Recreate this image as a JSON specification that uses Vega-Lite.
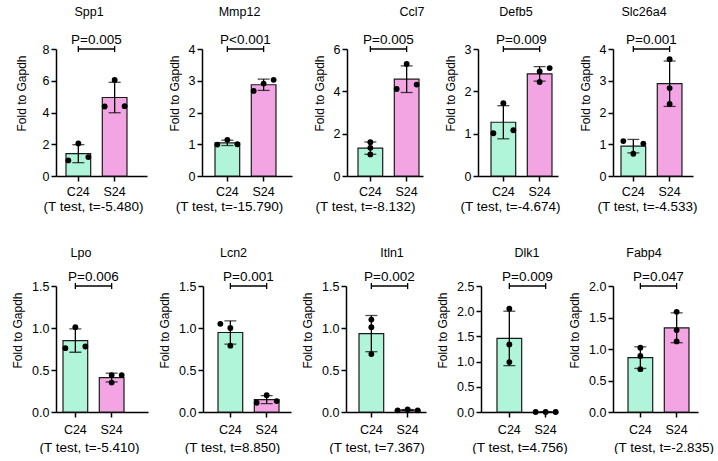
{
"$schema":"https://vega.github.io/schema/vega-lite/v6.json",
"padding":{"left":11,"top":5,"right":0,"bottom":0},
"spacing":33,
"config":{
 "font":"Liberation Sans",
 "view":{"stroke":null},
 "axis":{"grid":false,"domainColor":"black","domainWidth":1.5,"tickColor":"black","tickWidth":1.5,"tickSize":5,"labelColor":"black","titleColor":"black","labelFontSize":12.5,"titleFontSize":12.5,"titleFontWeight":"normal","labelPadding":2},
 "axisX":{"labelAngle":0,"titleFontSize":13.5,"labelPadding":4,"titlePadding":2},
 "axisY":{"titlePadding":7,"titleFontSize":12,"titleY":44},
 "title":{"fontSize":12.5,"fontWeight":"normal","color":"black","offset":15,"frame":"group"},
 "text":{"color":"black","fontSize":13.5},
 "point":{"filled":true,"size":34,"color":"black","opacity":1}
},
"vconcat":[
{"hconcat":[
 {"width":91,"height":127,"title":{"text":"Spp1","dx":-12.5},
  "data":{"values":[{"g":"C24","s":"L","v":0.98},{"g":"C24","s":"M","v":2.05},{"g":"C24","s":"R","v":1.19},{"g":"S24","s":"L","v":4.38},{"g":"S24","s":"M","v":6.05},{"g":"S24","s":"R","v":4.40}]},
  "layer":[
   {"mark":{"type":"bar","stroke":"#1a1a1a","strokeWidth":1.2},"encoding":{"x":{"field":"g","type":"nominal","scale":{"domain":["C24","S24"],"paddingInner":0.32,"paddingOuter":0.413,"align":0.333},"axis":{"title":"(T test, t=-5.480)","titleX":37}},"y":{"aggregate":"mean","field":"v","type":"quantitative","scale":{"domain":[0,8],"nice":false},"axis":{"title":"Fold to Gapdh","values":[0,2,4,6,8],"titlePadding":13.5}},"color":{"field":"g","type":"nominal","scale":{"domain":["C24","S24"],"range":["#b0f4da","#f3a5e3"]},"legend":null}}},
   {"mark":{"type":"errorbar","extent":"stdev","thickness":1.3,"color":"black","ticks":{"size":12}},"encoding":{"x":{"field":"g","type":"nominal"},"y":{"field":"v","type":"quantitative","title":"Fold to Gapdh","axis":{"title":"Fold to Gapdh","values":[0,2,4,6,8],"titlePadding":13.5}}}},
   {"transform":[{"filter":"datum.s==='L'"}],"mark":{"type":"point","xOffset":-10},"encoding":{"x":{"field":"g","type":"nominal"},"y":{"field":"v","type":"quantitative","axis":{"title":"Fold to Gapdh","values":[0,2,4,6,8],"titlePadding":13.5}}}},
   {"transform":[{"filter":"datum.s==='M'"}],"mark":{"type":"point"},"encoding":{"x":{"field":"g","type":"nominal"},"y":{"field":"v","type":"quantitative","axis":{"title":"Fold to Gapdh","values":[0,2,4,6,8],"titlePadding":13.5}}}},
   {"transform":[{"filter":"datum.s==='R'"}],"mark":{"type":"point","xOffset":10},"encoding":{"x":{"field":"g","type":"nominal"},"y":{"field":"v","type":"quantitative","axis":{"title":"Fold to Gapdh","values":[0,2,4,6,8],"titlePadding":13.5}}}},
   {"data":{"values":[{"a":"C24","b":"S24","top":8,"p":"P=0.005"}]},"layer":[
    {"mark":{"type":"rule","color":"black","strokeWidth":1.3},"encoding":{"x":{"field":"a","type":"nominal"},"x2":{"field":"b"},"y":{"field":"top","type":"quantitative","axis":{"title":"Fold to Gapdh","values":[0,2,4,6,8],"titlePadding":13.5}}}},
    {"mark":{"type":"point","shape":"M0,-1L0,1","size":36,"filled":false,"strokeWidth":1.3},"encoding":{"x":{"field":"a","type":"nominal"},"y":{"field":"top","type":"quantitative","axis":{"title":"Fold to Gapdh","values":[0,2,4,6,8],"titlePadding":13.5}}}},
    {"mark":{"type":"point","shape":"M0,-1L0,1","size":36,"filled":false,"strokeWidth":1.3},"encoding":{"x":{"field":"b","type":"nominal"},"y":{"field":"top","type":"quantitative","axis":{"title":"Fold to Gapdh","values":[0,2,4,6,8],"titlePadding":13.5}}}},
    {"mark":{"type":"text","dx":18,"dy":-9},"encoding":{"x":{"field":"a","type":"nominal"},"y":{"field":"top","type":"quantitative","axis":{"title":"Fold to Gapdh","values":[0,2,4,6,8],"titlePadding":13.5}},"text":{"field":"p"}}}
   ]}
  ]},
 {"width":90,"height":127,"title":{"text":"Mmp12","dx":-7.5},
  "data":{"values":[{"g":"C24","s":"L","v":0.99},{"g":"C24","s":"M","v":1.14},{"g":"C24","s":"R","v":1.00},{"g":"S24","s":"L","v":2.68},{"g":"S24","s":"M","v":2.91},{"g":"S24","s":"R","v":3.03}]},
  "layer":[
   {"mark":{"type":"bar","stroke":"#1a1a1a","strokeWidth":1.2},"encoding":{"x":{"field":"g","type":"nominal","scale":{"domain":["C24","S24"],"paddingInner":0.32,"paddingOuter":0.40,"align":0.448},"axis":{"title":"(T test, t=-15.790)","titleX":27}},"y":{"aggregate":"mean","field":"v","type":"quantitative","scale":{"domain":[0,4],"nice":false},"axis":{"title":"Fold to Gapdh","values":[0,1,2,3,4]}},"color":{"field":"g","type":"nominal","scale":{"domain":["C24","S24"],"range":["#b0f4da","#f3a5e3"]},"legend":null}}},
   {"mark":{"type":"errorbar","extent":"stdev","thickness":1.3,"color":"black","ticks":{"size":12}},"encoding":{"x":{"field":"g","type":"nominal"},"y":{"field":"v","type":"quantitative","title":"Fold to Gapdh","axis":{"title":"Fold to Gapdh","values":[0,1,2,3,4]}}}},
   {"transform":[{"filter":"datum.s==='L'"}],"mark":{"type":"point","xOffset":-10},"encoding":{"x":{"field":"g","type":"nominal"},"y":{"field":"v","type":"quantitative","axis":{"title":"Fold to Gapdh","values":[0,1,2,3,4]}}}},
   {"transform":[{"filter":"datum.s==='M'"}],"mark":{"type":"point"},"encoding":{"x":{"field":"g","type":"nominal"},"y":{"field":"v","type":"quantitative","axis":{"title":"Fold to Gapdh","values":[0,1,2,3,4]}}}},
   {"transform":[{"filter":"datum.s==='R'"}],"mark":{"type":"point","xOffset":10},"encoding":{"x":{"field":"g","type":"nominal"},"y":{"field":"v","type":"quantitative","axis":{"title":"Fold to Gapdh","values":[0,1,2,3,4]}}}},
   {"data":{"values":[{"a":"C24","b":"S24","top":4,"p":"P<0.001"}]},"layer":[
    {"mark":{"type":"rule","color":"black","strokeWidth":1.3},"encoding":{"x":{"field":"a","type":"nominal"},"x2":{"field":"b"},"y":{"field":"top","type":"quantitative","axis":{"title":"Fold to Gapdh","values":[0,1,2,3,4]}}}},
    {"mark":{"type":"point","shape":"M0,-1L0,1","size":36,"filled":false,"strokeWidth":1.3},"encoding":{"x":{"field":"a","type":"nominal"},"y":{"field":"top","type":"quantitative","axis":{"title":"Fold to Gapdh","values":[0,1,2,3,4]}}}},
    {"mark":{"type":"point","shape":"M0,-1L0,1","size":36,"filled":false,"strokeWidth":1.3},"encoding":{"x":{"field":"b","type":"nominal"},"y":{"field":"top","type":"quantitative","axis":{"title":"Fold to Gapdh","values":[0,1,2,3,4]}}}},
    {"mark":{"type":"text","dx":18,"dy":-9},"encoding":{"x":{"field":"a","type":"nominal"},"y":{"field":"top","type":"quantitative","axis":{"title":"Fold to Gapdh","values":[0,1,2,3,4]}},"text":{"field":"p"}}}
   ]}
  ]},
 {"width":76,"height":127,"title":{"text":"Ccl7","dx":27},
  "data":{"values":[{"g":"C24","s":"M","v":1.60},{"g":"C24","s":"M","v":1.33},{"g":"C24","s":"M","v":1.02},{"g":"S24","s":"L","v":4.11},{"g":"S24","s":"M","v":5.29},{"g":"S24","s":"R","v":4.32}]},
  "layer":[
   {"mark":{"type":"bar","stroke":"#1a1a1a","strokeWidth":1.2},"encoding":{"x":{"field":"g","type":"nominal","scale":{"domain":["C24","S24"],"paddingInner":0.32,"paddingOuter":0.207,"align":0.733},"axis":{"title":"(T test, t=-8.132)","titleX":18}},"y":{"aggregate":"mean","field":"v","type":"quantitative","scale":{"domain":[0,6],"nice":false},"axis":{"title":"Fold to Gapdh","values":[0,2,4,6]}},"color":{"field":"g","type":"nominal","scale":{"domain":["C24","S24"],"range":["#b0f4da","#f3a5e3"]},"legend":null}}},
   {"mark":{"type":"errorbar","extent":"stdev","thickness":1.3,"color":"black","ticks":{"size":12}},"encoding":{"x":{"field":"g","type":"nominal"},"y":{"field":"v","type":"quantitative","title":"Fold to Gapdh","axis":{"title":"Fold to Gapdh","values":[0,2,4,6]}}}},
   {"transform":[{"filter":"datum.s==='L'"}],"mark":{"type":"point","xOffset":-10},"encoding":{"x":{"field":"g","type":"nominal"},"y":{"field":"v","type":"quantitative","axis":{"title":"Fold to Gapdh","values":[0,2,4,6]}}}},
   {"transform":[{"filter":"datum.s==='M'"}],"mark":{"type":"point"},"encoding":{"x":{"field":"g","type":"nominal"},"y":{"field":"v","type":"quantitative","axis":{"title":"Fold to Gapdh","values":[0,2,4,6]}}}},
   {"transform":[{"filter":"datum.s==='R'"}],"mark":{"type":"point","xOffset":10},"encoding":{"x":{"field":"g","type":"nominal"},"y":{"field":"v","type":"quantitative","axis":{"title":"Fold to Gapdh","values":[0,2,4,6]}}}},
   {"data":{"values":[{"a":"C24","b":"S24","top":6,"p":"P=0.005"}]},"layer":[
    {"mark":{"type":"rule","color":"black","strokeWidth":1.3},"encoding":{"x":{"field":"a","type":"nominal"},"x2":{"field":"b"},"y":{"field":"top","type":"quantitative","axis":{"title":"Fold to Gapdh","values":[0,2,4,6]}}}},
    {"mark":{"type":"point","shape":"M0,-1L0,1","size":36,"filled":false,"strokeWidth":1.3},"encoding":{"x":{"field":"a","type":"nominal"},"y":{"field":"top","type":"quantitative","axis":{"title":"Fold to Gapdh","values":[0,2,4,6]}}}},
    {"mark":{"type":"point","shape":"M0,-1L0,1","size":36,"filled":false,"strokeWidth":1.3},"encoding":{"x":{"field":"b","type":"nominal"},"y":{"field":"top","type":"quantitative","axis":{"title":"Fold to Gapdh","values":[0,2,4,6]}}}},
    {"mark":{"type":"text","dx":18,"dy":-9},"encoding":{"x":{"field":"a","type":"nominal"},"y":{"field":"top","type":"quantitative","axis":{"title":"Fold to Gapdh","values":[0,2,4,6]}},"text":{"field":"p"}}}
   ]}
  ]},
 {"width":80,"height":127,"title":{"text":"Defb5","dx":-2},
  "data":{"values":[{"g":"C24","s":"L","v":1.01},{"g":"C24","s":"M","v":1.72},{"g":"C24","s":"R","v":1.08},{"g":"S24","s":"M","v":2.47},{"g":"S24","s":"M","v":2.22},{"g":"S24","s":"R","v":2.55}]},
  "layer":[
   {"mark":{"type":"bar","stroke":"#1a1a1a","strokeWidth":1.2},"encoding":{"x":{"field":"g","type":"nominal","scale":{"domain":["C24","S24"],"paddingInner":0.32,"paddingOuter":0.262,"align":0.684},"axis":{"title":"(T test, t=-4.674)","titleX":32}},"y":{"aggregate":"mean","field":"v","type":"quantitative","scale":{"domain":[0,3],"nice":false},"axis":{"title":"Fold to Gapdh","values":[0,1,2,3]}},"color":{"field":"g","type":"nominal","scale":{"domain":["C24","S24"],"range":["#b0f4da","#f3a5e3"]},"legend":null}}},
   {"mark":{"type":"errorbar","extent":"stdev","thickness":1.3,"color":"black","ticks":{"size":12}},"encoding":{"x":{"field":"g","type":"nominal"},"y":{"field":"v","type":"quantitative","title":"Fold to Gapdh","axis":{"title":"Fold to Gapdh","values":[0,1,2,3]}}}},
   {"transform":[{"filter":"datum.s==='L'"}],"mark":{"type":"point","xOffset":-10},"encoding":{"x":{"field":"g","type":"nominal"},"y":{"field":"v","type":"quantitative","axis":{"title":"Fold to Gapdh","values":[0,1,2,3]}}}},
   {"transform":[{"filter":"datum.s==='M'"}],"mark":{"type":"point"},"encoding":{"x":{"field":"g","type":"nominal"},"y":{"field":"v","type":"quantitative","axis":{"title":"Fold to Gapdh","values":[0,1,2,3]}}}},
   {"transform":[{"filter":"datum.s==='R'"}],"mark":{"type":"point","xOffset":10},"encoding":{"x":{"field":"g","type":"nominal"},"y":{"field":"v","type":"quantitative","axis":{"title":"Fold to Gapdh","values":[0,1,2,3]}}}},
   {"data":{"values":[{"a":"C24","b":"S24","top":3,"p":"P=0.009"}]},"layer":[
    {"mark":{"type":"rule","color":"black","strokeWidth":1.3},"encoding":{"x":{"field":"a","type":"nominal"},"x2":{"field":"b"},"y":{"field":"top","type":"quantitative","axis":{"title":"Fold to Gapdh","values":[0,1,2,3]}}}},
    {"mark":{"type":"point","shape":"M0,-1L0,1","size":36,"filled":false,"strokeWidth":1.3},"encoding":{"x":{"field":"a","type":"nominal"},"y":{"field":"top","type":"quantitative","axis":{"title":"Fold to Gapdh","values":[0,1,2,3]}}}},
    {"mark":{"type":"point","shape":"M0,-1L0,1","size":36,"filled":false,"strokeWidth":1.3},"encoding":{"x":{"field":"b","type":"nominal"},"y":{"field":"top","type":"quantitative","axis":{"title":"Fold to Gapdh","values":[0,1,2,3]}}}},
    {"mark":{"type":"text","dx":18,"dy":-9},"encoding":{"x":{"field":"a","type":"nominal"},"y":{"field":"top","type":"quantitative","axis":{"title":"Fold to Gapdh","values":[0,1,2,3]}},"text":{"field":"p"}}}
   ]}
  ]},
 {"width":80,"height":127,"title":{"text":"Slc26a4","dx":-9},
  "data":{"values":[{"g":"C24","s":"L","v":1.10},{"g":"C24","s":"M","v":0.70},{"g":"C24","s":"R","v":1.02},{"g":"S24","s":"M","v":3.68},{"g":"S24","s":"M","v":2.77},{"g":"S24","s":"M","v":2.27}]},
  "layer":[
   {"mark":{"type":"bar","stroke":"#1a1a1a","strokeWidth":1.2},"encoding":{"x":{"field":"g","type":"nominal","scale":{"domain":["C24","S24"],"paddingInner":0.32,"paddingOuter":0.262,"align":0.42},"axis":{"title":"(T test, t=-4.533)","titleX":34}},"y":{"aggregate":"mean","field":"v","type":"quantitative","scale":{"domain":[0,4],"nice":false},"axis":{"title":"Fold to Gapdh","values":[0,1,2,3,4]}},"color":{"field":"g","type":"nominal","scale":{"domain":["C24","S24"],"range":["#b0f4da","#f3a5e3"]},"legend":null}}},
   {"mark":{"type":"errorbar","extent":"stdev","thickness":1.3,"color":"black","ticks":{"size":12}},"encoding":{"x":{"field":"g","type":"nominal"},"y":{"field":"v","type":"quantitative","title":"Fold to Gapdh","axis":{"title":"Fold to Gapdh","values":[0,1,2,3,4]}}}},
   {"transform":[{"filter":"datum.s==='L'"}],"mark":{"type":"point","xOffset":-10},"encoding":{"x":{"field":"g","type":"nominal"},"y":{"field":"v","type":"quantitative","axis":{"title":"Fold to Gapdh","values":[0,1,2,3,4]}}}},
   {"transform":[{"filter":"datum.s==='M'"}],"mark":{"type":"point"},"encoding":{"x":{"field":"g","type":"nominal"},"y":{"field":"v","type":"quantitative","axis":{"title":"Fold to Gapdh","values":[0,1,2,3,4]}}}},
   {"transform":[{"filter":"datum.s==='R'"}],"mark":{"type":"point","xOffset":10},"encoding":{"x":{"field":"g","type":"nominal"},"y":{"field":"v","type":"quantitative","axis":{"title":"Fold to Gapdh","values":[0,1,2,3,4]}}}},
   {"data":{"values":[{"a":"C24","b":"S24","top":4,"p":"P=0.001"}]},"layer":[
    {"mark":{"type":"rule","color":"black","strokeWidth":1.3},"encoding":{"x":{"field":"a","type":"nominal"},"x2":{"field":"b"},"y":{"field":"top","type":"quantitative","axis":{"title":"Fold to Gapdh","values":[0,1,2,3,4]}}}},
    {"mark":{"type":"point","shape":"M0,-1L0,1","size":36,"filled":false,"strokeWidth":1.3},"encoding":{"x":{"field":"a","type":"nominal"},"y":{"field":"top","type":"quantitative","axis":{"title":"Fold to Gapdh","values":[0,1,2,3,4]}}}},
    {"mark":{"type":"point","shape":"M0,-1L0,1","size":36,"filled":false,"strokeWidth":1.3},"encoding":{"x":{"field":"b","type":"nominal"},"y":{"field":"top","type":"quantitative","axis":{"title":"Fold to Gapdh","values":[0,1,2,3,4]}}}},
    {"mark":{"type":"text","dx":18,"dy":-9},"encoding":{"x":{"field":"a","type":"nominal"},"y":{"field":"top","type":"quantitative","axis":{"title":"Fold to Gapdh","values":[0,1,2,3,4]}},"text":{"field":"p"}}}
   ]}
  ]}
],"spacing":55,"bounds":"flush"},
{"hconcat":[
 {"width":92,"height":126,"title":{"text":"Lpo","dx":-21,"offset":11},
  "data":{"values":[{"g":"C24","s":"L","v":0.76},{"g":"C24","s":"M","v":1.01},{"g":"C24","s":"R","v":0.78},{"g":"S24","s":"M","v":0.44},{"g":"S24","s":"M","v":0.35},{"g":"S24","s":"R","v":0.44}]},
  "layer":[
   {"mark":{"type":"bar","stroke":"#1a1a1a","strokeWidth":1.2},"encoding":{"x":{"field":"g","type":"nominal","scale":{"domain":["C24","S24"],"paddingInner":0.32,"paddingOuter":0.427,"align":0.226},"axis":{"title":"(T test, t=-5.410)","titleX":33,"labelPadding":6,"titlePadding":5}},"y":{"aggregate":"mean","field":"v","type":"quantitative","scale":{"domain":[0,1.5],"nice":false},"axis":{"title":"Fold to Gapdh","values":[0,0.5,1,1.5],"format":".1f","titlePadding":7.05}},"color":{"field":"g","type":"nominal","scale":{"domain":["C24","S24"],"range":["#b0f4da","#f3a5e3"]},"legend":null}}},
   {"mark":{"type":"errorbar","extent":"stdev","thickness":1.3,"color":"black","ticks":{"size":12}},"encoding":{"x":{"field":"g","type":"nominal"},"y":{"field":"v","type":"quantitative","title":"Fold to Gapdh","axis":{"title":"Fold to Gapdh","values":[0,0.5,1,1.5],"format":".1f","titlePadding":7.05}}}},
   {"transform":[{"filter":"datum.s==='L'"}],"mark":{"type":"point","xOffset":-10},"encoding":{"x":{"field":"g","type":"nominal"},"y":{"field":"v","type":"quantitative","axis":{"title":"Fold to Gapdh","values":[0,0.5,1,1.5],"format":".1f","titlePadding":7.05}}}},
   {"transform":[{"filter":"datum.s==='M'"}],"mark":{"type":"point"},"encoding":{"x":{"field":"g","type":"nominal"},"y":{"field":"v","type":"quantitative","axis":{"title":"Fold to Gapdh","values":[0,0.5,1,1.5],"format":".1f","titlePadding":7.05}}}},
   {"transform":[{"filter":"datum.s==='R'"}],"mark":{"type":"point","xOffset":10},"encoding":{"x":{"field":"g","type":"nominal"},"y":{"field":"v","type":"quantitative","axis":{"title":"Fold to Gapdh","values":[0,0.5,1,1.5],"format":".1f","titlePadding":7.05}}}},
   {"data":{"values":[{"a":"C24","b":"S24","top":1.5,"p":"P=0.006"}]},"layer":[
    {"mark":{"type":"rule","color":"black","strokeWidth":1.3},"encoding":{"x":{"field":"a","type":"nominal"},"x2":{"field":"b"},"y":{"field":"top","type":"quantitative","axis":{"title":"Fold to Gapdh","values":[0,0.5,1,1.5],"format":".1f","titlePadding":7.05}}}},
    {"mark":{"type":"point","shape":"M0,-1L0,1","size":36,"filled":false,"strokeWidth":1.3},"encoding":{"x":{"field":"a","type":"nominal"},"y":{"field":"top","type":"quantitative","axis":{"title":"Fold to Gapdh","values":[0,0.5,1,1.5],"format":".1f","titlePadding":7.05}}}},
    {"mark":{"type":"point","shape":"M0,-1L0,1","size":36,"filled":false,"strokeWidth":1.3},"encoding":{"x":{"field":"b","type":"nominal"},"y":{"field":"top","type":"quantitative","axis":{"title":"Fold to Gapdh","values":[0,0.5,1,1.5],"format":".1f","titlePadding":7.05}}}},
    {"mark":{"type":"text","dx":18,"dy":-9},"encoding":{"x":{"field":"a","type":"nominal"},"y":{"field":"top","type":"quantitative","axis":{"title":"Fold to Gapdh","values":[0,0.5,1,1.5],"format":".1f","titlePadding":7.05}},"text":{"field":"p"}}}
   ]}
  ]},
 {"width":88,"height":126,"title":{"text":"Lcn2","dx":-13.5,"offset":11},
  "data":{"values":[{"g":"C24","s":"L","v":1.05},{"g":"C24","s":"M","v":1.00},{"g":"C24","s":"M","v":0.79},{"g":"S24","s":"L","v":0.11},{"g":"S24","s":"M","v":0.20},{"g":"S24","s":"R","v":0.13}]},
  "layer":[
   {"mark":{"type":"bar","stroke":"#1a1a1a","strokeWidth":1.2},"encoding":{"x":{"field":"g","type":"nominal","scale":{"domain":["C24","S24"],"paddingInner":0.32,"paddingOuter":0.372,"align":0.556},"axis":{"title":"(T test, t=8.850)","titleX":29,"labelPadding":6,"titlePadding":5}},"y":{"aggregate":"mean","field":"v","type":"quantitative","scale":{"domain":[0,1.5],"nice":false},"axis":{"title":"Fold to Gapdh","values":[0,0.5,1,1.5],"format":".1f"}},"color":{"field":"g","type":"nominal","scale":{"domain":["C24","S24"],"range":["#b0f4da","#f3a5e3"]},"legend":null}}},
   {"mark":{"type":"errorbar","extent":"stdev","thickness":1.3,"color":"black","ticks":{"size":12}},"encoding":{"x":{"field":"g","type":"nominal"},"y":{"field":"v","type":"quantitative","title":"Fold to Gapdh","axis":{"title":"Fold to Gapdh","values":[0,0.5,1,1.5],"format":".1f"}}}},
   {"transform":[{"filter":"datum.s==='L'"}],"mark":{"type":"point","xOffset":-10},"encoding":{"x":{"field":"g","type":"nominal"},"y":{"field":"v","type":"quantitative","axis":{"title":"Fold to Gapdh","values":[0,0.5,1,1.5],"format":".1f"}}}},
   {"transform":[{"filter":"datum.s==='M'"}],"mark":{"type":"point"},"encoding":{"x":{"field":"g","type":"nominal"},"y":{"field":"v","type":"quantitative","axis":{"title":"Fold to Gapdh","values":[0,0.5,1,1.5],"format":".1f"}}}},
   {"transform":[{"filter":"datum.s==='R'"}],"mark":{"type":"point","xOffset":10},"encoding":{"x":{"field":"g","type":"nominal"},"y":{"field":"v","type":"quantitative","axis":{"title":"Fold to Gapdh","values":[0,0.5,1,1.5],"format":".1f"}}}},
   {"data":{"values":[{"a":"C24","b":"S24","top":1.5,"p":"P=0.001"}]},"layer":[
    {"mark":{"type":"rule","color":"black","strokeWidth":1.3},"encoding":{"x":{"field":"a","type":"nominal"},"x2":{"field":"b"},"y":{"field":"top","type":"quantitative","axis":{"title":"Fold to Gapdh","values":[0,0.5,1,1.5],"format":".1f"}}}},
    {"mark":{"type":"point","shape":"M0,-1L0,1","size":36,"filled":false,"strokeWidth":1.3},"encoding":{"x":{"field":"a","type":"nominal"},"y":{"field":"top","type":"quantitative","axis":{"title":"Fold to Gapdh","values":[0,0.5,1,1.5],"format":".1f"}}}},
    {"mark":{"type":"point","shape":"M0,-1L0,1","size":36,"filled":false,"strokeWidth":1.3},"encoding":{"x":{"field":"b","type":"nominal"},"y":{"field":"top","type":"quantitative","axis":{"title":"Fold to Gapdh","values":[0,0.5,1,1.5],"format":".1f"}}}},
    {"mark":{"type":"text","dx":18,"dy":-9},"encoding":{"x":{"field":"a","type":"nominal"},"y":{"field":"top","type":"quantitative","axis":{"title":"Fold to Gapdh","values":[0,0.5,1,1.5],"format":".1f"}},"text":{"field":"p"}}}
   ]}
  ]},
 {"width":80,"height":126,"title":{"text":"Itln1","dx":6,"offset":11},
  "data":{"values":[{"g":"C24","s":"M","v":1.10},{"g":"C24","s":"M","v":1.01},{"g":"C24","s":"M","v":0.69},{"g":"S24","s":"L","v":0.02},{"g":"S24","s":"M","v":0.03},{"g":"S24","s":"R","v":0.02}]},
  "layer":[
   {"mark":{"type":"bar","stroke":"#1a1a1a","strokeWidth":1.2},"encoding":{"x":{"field":"g","type":"nominal","scale":{"domain":["C24","S24"],"paddingInner":0.32,"paddingOuter":0.262,"align":0.684},"axis":{"title":"(T test, t=7.367)","titleX":30.5,"labelPadding":6,"titlePadding":5}},"y":{"aggregate":"mean","field":"v","type":"quantitative","scale":{"domain":[0,1.5],"nice":false},"axis":{"title":"Fold to Gapdh","values":[0,0.5,1,1.5],"format":".1f"}},"color":{"field":"g","type":"nominal","scale":{"domain":["C24","S24"],"range":["#b0f4da","#f3a5e3"]},"legend":null}}},
   {"mark":{"type":"errorbar","extent":"stdev","thickness":1.3,"color":"black","ticks":{"size":12}},"encoding":{"x":{"field":"g","type":"nominal"},"y":{"field":"v","type":"quantitative","title":"Fold to Gapdh","axis":{"title":"Fold to Gapdh","values":[0,0.5,1,1.5],"format":".1f"}}}},
   {"transform":[{"filter":"datum.s==='L'"}],"mark":{"type":"point","xOffset":-10},"encoding":{"x":{"field":"g","type":"nominal"},"y":{"field":"v","type":"quantitative","axis":{"title":"Fold to Gapdh","values":[0,0.5,1,1.5],"format":".1f"}}}},
   {"transform":[{"filter":"datum.s==='M'"}],"mark":{"type":"point"},"encoding":{"x":{"field":"g","type":"nominal"},"y":{"field":"v","type":"quantitative","axis":{"title":"Fold to Gapdh","values":[0,0.5,1,1.5],"format":".1f"}}}},
   {"transform":[{"filter":"datum.s==='R'"}],"mark":{"type":"point","xOffset":10},"encoding":{"x":{"field":"g","type":"nominal"},"y":{"field":"v","type":"quantitative","axis":{"title":"Fold to Gapdh","values":[0,0.5,1,1.5],"format":".1f"}}}},
   {"data":{"values":[{"a":"C24","b":"S24","top":1.5,"p":"P=0.002"}]},"layer":[
    {"mark":{"type":"rule","color":"black","strokeWidth":1.3},"encoding":{"x":{"field":"a","type":"nominal"},"x2":{"field":"b"},"y":{"field":"top","type":"quantitative","axis":{"title":"Fold to Gapdh","values":[0,0.5,1,1.5],"format":".1f"}}}},
    {"mark":{"type":"point","shape":"M0,-1L0,1","size":36,"filled":false,"strokeWidth":1.3},"encoding":{"x":{"field":"a","type":"nominal"},"y":{"field":"top","type":"quantitative","axis":{"title":"Fold to Gapdh","values":[0,0.5,1,1.5],"format":".1f"}}}},
    {"mark":{"type":"point","shape":"M0,-1L0,1","size":36,"filled":false,"strokeWidth":1.3},"encoding":{"x":{"field":"b","type":"nominal"},"y":{"field":"top","type":"quantitative","axis":{"title":"Fold to Gapdh","values":[0,0.5,1,1.5],"format":".1f"}}}},
    {"mark":{"type":"text","dx":18,"dy":-9},"encoding":{"x":{"field":"a","type":"nominal"},"y":{"field":"top","type":"quantitative","axis":{"title":"Fold to Gapdh","values":[0,0.5,1,1.5],"format":".1f"}},"text":{"field":"p"}}}
   ]}
  ]},
 {"width":77,"height":126,"title":{"text":"Dlk1","dx":7.5,"offset":11},
  "data":{"values":[{"g":"C24","s":"M","v":2.05},{"g":"C24","s":"M","v":1.34},{"g":"C24","s":"M","v":0.99},{"g":"S24","s":"L","v":0},{"g":"S24","s":"M","v":0},{"g":"S24","s":"R","v":0}]},
  "layer":[
   {"mark":{"type":"bar","stroke":"#1a1a1a","strokeWidth":1.2},"encoding":{"x":{"field":"g","type":"nominal","scale":{"domain":["C24","S24"],"paddingInner":0.32,"paddingOuter":0.22,"align":1},"axis":{"title":"(T test, t=4.756)","titleX":38.5,"labelPadding":6,"titlePadding":5}},"y":{"aggregate":"mean","field":"v","type":"quantitative","scale":{"domain":[0,2.5],"nice":false},"axis":{"title":"Fold to Gapdh","values":[0,0.5,1,1.5,2,2.5],"format":".1f"}},"color":{"field":"g","type":"nominal","scale":{"domain":["C24","S24"],"range":["#b0f4da","#f3a5e3"]},"legend":null}}},
   {"mark":{"type":"errorbar","extent":"stdev","thickness":1.3,"color":"black","ticks":{"size":12}},"encoding":{"x":{"field":"g","type":"nominal"},"y":{"field":"v","type":"quantitative","title":"Fold to Gapdh","axis":{"title":"Fold to Gapdh","values":[0,0.5,1,1.5,2,2.5],"format":".1f"}}}},
   {"transform":[{"filter":"datum.s==='L'"}],"mark":{"type":"point","xOffset":-10},"encoding":{"x":{"field":"g","type":"nominal"},"y":{"field":"v","type":"quantitative","axis":{"title":"Fold to Gapdh","values":[0,0.5,1,1.5,2,2.5],"format":".1f"}}}},
   {"transform":[{"filter":"datum.s==='M'"}],"mark":{"type":"point"},"encoding":{"x":{"field":"g","type":"nominal"},"y":{"field":"v","type":"quantitative","axis":{"title":"Fold to Gapdh","values":[0,0.5,1,1.5,2,2.5],"format":".1f"}}}},
   {"transform":[{"filter":"datum.s==='R'"}],"mark":{"type":"point","xOffset":10},"encoding":{"x":{"field":"g","type":"nominal"},"y":{"field":"v","type":"quantitative","axis":{"title":"Fold to Gapdh","values":[0,0.5,1,1.5,2,2.5],"format":".1f"}}}},
   {"data":{"values":[{"a":"C24","b":"S24","top":2.5,"p":"P=0.009"}]},"layer":[
    {"mark":{"type":"rule","color":"black","strokeWidth":1.3},"encoding":{"x":{"field":"a","type":"nominal"},"x2":{"field":"b"},"y":{"field":"top","type":"quantitative","axis":{"title":"Fold to Gapdh","values":[0,0.5,1,1.5,2,2.5],"format":".1f"}}}},
    {"mark":{"type":"point","shape":"M0,-1L0,1","size":36,"filled":false,"strokeWidth":1.3},"encoding":{"x":{"field":"a","type":"nominal"},"y":{"field":"top","type":"quantitative","axis":{"title":"Fold to Gapdh","values":[0,0.5,1,1.5,2,2.5],"format":".1f"}}}},
    {"mark":{"type":"point","shape":"M0,-1L0,1","size":36,"filled":false,"strokeWidth":1.3},"encoding":{"x":{"field":"b","type":"nominal"},"y":{"field":"top","type":"quantitative","axis":{"title":"Fold to Gapdh","values":[0,0.5,1,1.5,2,2.5],"format":".1f"}}}},
    {"mark":{"type":"text","dx":18,"dy":-9},"encoding":{"x":{"field":"a","type":"nominal"},"y":{"field":"top","type":"quantitative","axis":{"title":"Fold to Gapdh","values":[0,0.5,1,1.5,2,2.5],"format":".1f"}},"text":{"field":"p"}}}
   ]}
  ]},
 {"width":85,"height":126,"title":{"text":"Fabp4","dx":-11.5,"offset":11},
  "data":{"values":[{"g":"C24","s":"M","v":1.02},{"g":"C24","s":"M","v":0.89},{"g":"C24","s":"M","v":0.68},{"g":"S24","s":"M","v":1.59},{"g":"S24","s":"M","v":1.30},{"g":"S24","s":"M","v":1.12}]},
  "layer":[
   {"mark":{"type":"bar","stroke":"#1a1a1a","strokeWidth":1.2},"encoding":{"x":{"field":"g","type":"nominal","scale":{"domain":["C24","S24"],"paddingInner":0.32,"paddingOuter":0.331,"align":0.625},"axis":{"title":"(T test, t=-2.835)","titleX":50.5,"labelPadding":6,"titlePadding":5}},"y":{"aggregate":"mean","field":"v","type":"quantitative","scale":{"domain":[0,2],"nice":false},"axis":{"title":"Fold to Gapdh","values":[0,0.5,1,1.5,2],"format":".1f"}},"color":{"field":"g","type":"nominal","scale":{"domain":["C24","S24"],"range":["#b0f4da","#f3a5e3"]},"legend":null}}},
   {"mark":{"type":"errorbar","extent":"stdev","thickness":1.3,"color":"black","ticks":{"size":12}},"encoding":{"x":{"field":"g","type":"nominal"},"y":{"field":"v","type":"quantitative","title":"Fold to Gapdh","axis":{"title":"Fold to Gapdh","values":[0,0.5,1,1.5,2],"format":".1f"}}}},
   {"transform":[{"filter":"datum.s==='L'"}],"mark":{"type":"point","xOffset":-10},"encoding":{"x":{"field":"g","type":"nominal"},"y":{"field":"v","type":"quantitative","axis":{"title":"Fold to Gapdh","values":[0,0.5,1,1.5,2],"format":".1f"}}}},
   {"transform":[{"filter":"datum.s==='M'"}],"mark":{"type":"point"},"encoding":{"x":{"field":"g","type":"nominal"},"y":{"field":"v","type":"quantitative","axis":{"title":"Fold to Gapdh","values":[0,0.5,1,1.5,2],"format":".1f"}}}},
   {"transform":[{"filter":"datum.s==='R'"}],"mark":{"type":"point","xOffset":10},"encoding":{"x":{"field":"g","type":"nominal"},"y":{"field":"v","type":"quantitative","axis":{"title":"Fold to Gapdh","values":[0,0.5,1,1.5,2],"format":".1f"}}}},
   {"data":{"values":[{"a":"C24","b":"S24","top":2,"p":"P=0.047"}]},"layer":[
    {"mark":{"type":"rule","color":"black","strokeWidth":1.3},"encoding":{"x":{"field":"a","type":"nominal"},"x2":{"field":"b"},"y":{"field":"top","type":"quantitative","axis":{"title":"Fold to Gapdh","values":[0,0.5,1,1.5,2],"format":".1f"}}}},
    {"mark":{"type":"point","shape":"M0,-1L0,1","size":36,"filled":false,"strokeWidth":1.3},"encoding":{"x":{"field":"a","type":"nominal"},"y":{"field":"top","type":"quantitative","axis":{"title":"Fold to Gapdh","values":[0,0.5,1,1.5,2],"format":".1f"}}}},
    {"mark":{"type":"point","shape":"M0,-1L0,1","size":36,"filled":false,"strokeWidth":1.3},"encoding":{"x":{"field":"b","type":"nominal"},"y":{"field":"top","type":"quantitative","axis":{"title":"Fold to Gapdh","values":[0,0.5,1,1.5,2],"format":".1f"}}}},
    {"mark":{"type":"text","dx":18,"dy":-9},"encoding":{"x":{"field":"a","type":"nominal"},"y":{"field":"top","type":"quantitative","axis":{"title":"Fold to Gapdh","values":[0,0.5,1,1.5,2],"format":".1f"}},"text":{"field":"p"}}}
   ]}
  ]}
],"spacing":55,"bounds":"flush"}
]
}
